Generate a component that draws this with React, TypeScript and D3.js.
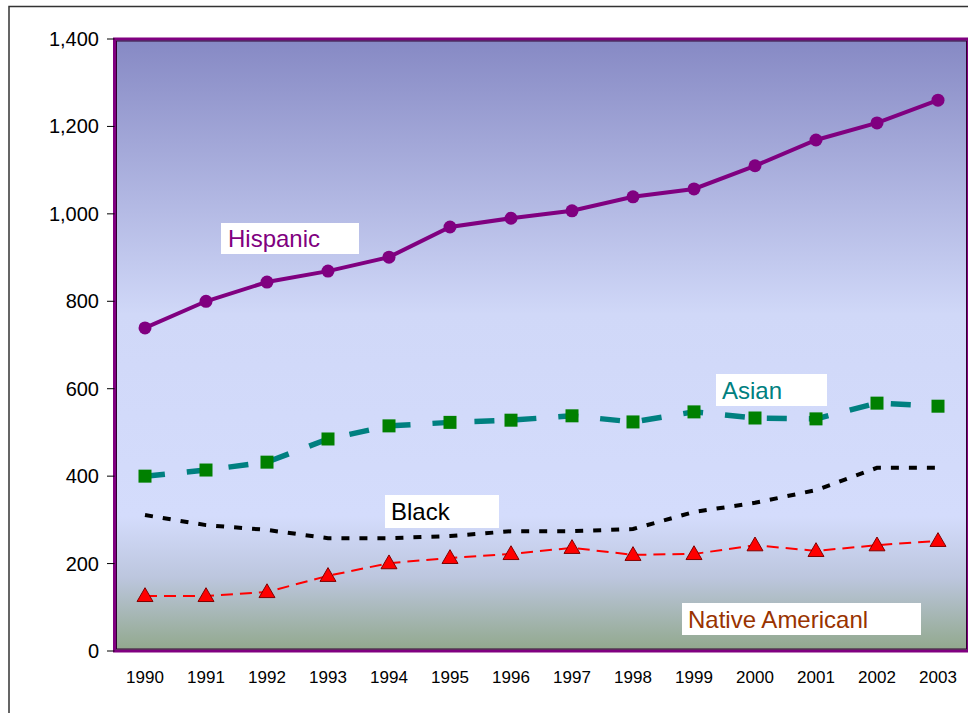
import React from "react";
import * as d3 from "d3";

const years = ["1990","1991","1992","1993","1994","1995","1996","1997","1998","1999","2000","2001","2002","2003"];
const hispanic = [739, 800, 844, 869, 901, 970, 990, 1007, 1039, 1057, 1110, 1169, 1208, 1260];
const asian = [400, 414, 432, 485, 515, 523, 528, 538, 524, 547, 533, 531, 567, 560];
const black = [311, 288, 277, 258, 258, 263, 274, 274, 279, 318, 339, 368, 419, 419];
const native = [126, 126, 135, 172, 201, 213, 222, 236, 220, 222, 242, 229, 242, 252];
const yTicks = [0, 200, 400, 600, 800, 1000, 1200, 1400];

const W = 968, H = 713;
const L = 114.5, R = 968.5, T = 39, B = 651;

export default function App() {
  const x = d3.scaleBand<string>().domain(years).range([L, R]);
  const cx = (y: string) => (x(y) as number) + x.bandwidth() / 2;
  const y = d3.scaleLinear().domain([0, 1400]).range([B, T]);
  const line = d3.line<number>().x((_, i) => cx(years[i])).y(v => y(v));
  const fmt = d3.format(",");
  const tri = d3.symbol().type(d3.symbolTriangle).size(110)();

  return (
    <svg width={W} height={H} style={{ position: "absolute", left: 0, top: 0 }} fontFamily="'Liberation Sans', Arial, sans-serif">
      <defs>
        <linearGradient id="bg" x1="0" y1="0" x2="0" y2="1">
          <stop offset="0" stopColor="#8689c4" />
          <stop offset="0.45" stopColor="#d0d8f8" />
          <stop offset="0.78" stopColor="#d4dcfc" />
          <stop offset="0.88" stopColor="#bcc6de" />
          <stop offset="1" stopColor="#91a88c" />
        </linearGradient>
      </defs>
      <rect x={0} y={0} width={W} height={H} fill="#fff" />
      <rect x={9} y={6.5} width={W + 10} height={H + 10} fill="none" stroke="#333" strokeWidth={1.5} />
      <rect x={L} y={T} width={R - L} height={B - T} fill="url(#bg)" />
      <rect x={L} y={T} width={R - L} height={B - T} fill="none" stroke="#800080" strokeWidth={3} />
      <rect x={L + 2} y={T + 2} width={R - L - 4} height={B - T - 4} fill="none" stroke="#300030" strokeWidth={1} />
      {yTicks.map(t => (
        <g key={t}>
          <line x1={107} x2={L} y1={y(t)} y2={y(t)} stroke="#000" strokeWidth={1} />
          <text x={99} y={y(t) + 7} textAnchor="end" fontSize={20} fill="#000">{fmt(t)}</text>
        </g>
      ))}
      {years.map(yr => (
        <text key={yr} x={cx(yr)} y={683} textAnchor="middle" fontSize={17} fill="#000">{yr}</text>
      ))}
      <path d={line(native) || ""} fill="none" stroke="#ff0000" strokeWidth={2} strokeDasharray="12,7" />
      <path d={line(black) || ""} fill="none" stroke="#000" strokeWidth={4} strokeDasharray="8,10" />
      <path d={line(asian) || ""} fill="none" stroke="#008080" strokeWidth={5.5} strokeDasharray="20,22" />
      <path d={line(hispanic) || ""} fill="none" stroke="#800080" strokeWidth={4} />
      {hispanic.map((v, i) => (
        <circle key={"h" + i} cx={cx(years[i])} cy={y(v)} r={6.5} fill="#800080" />
      ))}
      {asian.map((v, i) => (
        <rect key={"a" + i} x={cx(years[i]) - 6.5} y={y(v) - 6.5} width={13} height={13} fill="#008000" />
      ))}
      {native.map((v, i) => (
        <path key={"n" + i} d={tri || ""} transform={`translate(${cx(years[i])},${y(v) + 1})`} fill="#ff0000" stroke="#800000" strokeWidth={1} />
      ))}
      <rect x={221} y={223} width={138} height={31} fill="#fff" />
      <text x={228} y={247} fontSize={24} fill="#800080">Hispanic</text>
      <rect x={716} y={374} width={111} height={32} fill="#fff" />
      <text x={722} y={399} fontSize={24} fill="#008080">Asian</text>
      <rect x={385} y={495} width={114} height={33} fill="#fff" />
      <text x={391} y={520} fontSize={24} fill="#000">Black</text>
      <rect x={682} y={603} width={239} height={32} fill="#fff" />
      <text x={688} y={628} fontSize={24} fill="#993300">Native Americanl</text>
    </svg>
  );
}
